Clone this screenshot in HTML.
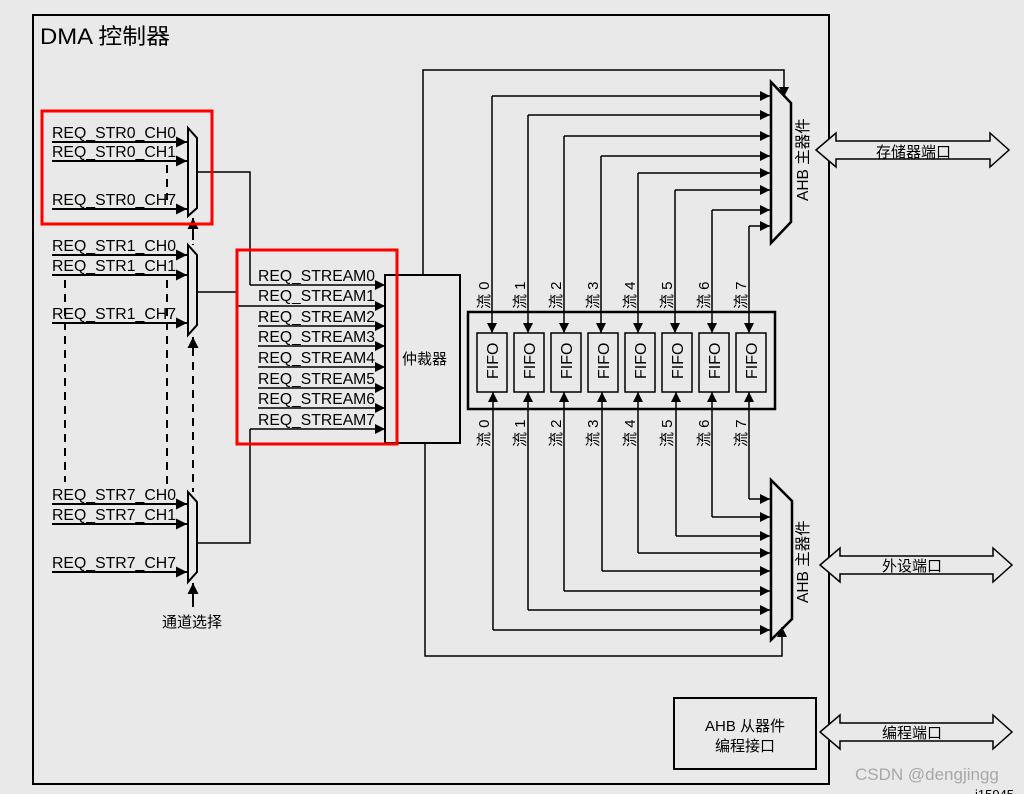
<!DOCTYPE html>
<html><head><meta charset="utf-8"><style>
html,body{margin:0;padding:0;background:#e9e9e9;}
svg{display:block;}
text{font-family:"Liberation Sans","Noto Sans CJK SC",sans-serif;fill:#000;}
</style></head><body>
<svg width="1024" height="794" viewBox="0 0 1024 794" xmlns="http://www.w3.org/2000/svg">
<defs>
<marker id="a" viewBox="0 0 10 10" refX="10" refY="5" markerWidth="10" markerHeight="10" markerUnits="userSpaceOnUse" orient="auto"><path d="M0,0 L10,5 L0,10z" fill="#000"/></marker>
<marker id="b" viewBox="0 0 10 10" refX="10" refY="5" markerWidth="11" markerHeight="13" markerUnits="userSpaceOnUse" orient="auto"><path d="M0,0 L10,5 L0,10z" fill="#000"/></marker>
</defs>
<rect x="0" y="0" width="1024" height="794" fill="#e9e9e9"/>
<rect x="33" y="15" width="796" height="769" fill="none" stroke="#000" stroke-width="2"/>
<text x="40" y="44" font-size="22" textLength="130" lengthAdjust="spacingAndGlyphs">DMA 控制器</text>

<g font-size="15.5">
<text x="52" y="138" textLength="124" lengthAdjust="spacingAndGlyphs">REQ_STR0_CH0</text><text x="52" y="157" textLength="124" lengthAdjust="spacingAndGlyphs">REQ_STR0_CH1</text><text x="52" y="205" textLength="124" lengthAdjust="spacingAndGlyphs">REQ_STR0_CH7</text>
<text x="52" y="251" textLength="124" lengthAdjust="spacingAndGlyphs">REQ_STR1_CH0</text><text x="52" y="271" textLength="124" lengthAdjust="spacingAndGlyphs">REQ_STR1_CH1</text><text x="52" y="319" textLength="124" lengthAdjust="spacingAndGlyphs">REQ_STR1_CH7</text>
<text x="52" y="500" textLength="124" lengthAdjust="spacingAndGlyphs">REQ_STR7_CH0</text><text x="52" y="520" textLength="124" lengthAdjust="spacingAndGlyphs">REQ_STR7_CH1</text><text x="52" y="568" textLength="124" lengthAdjust="spacingAndGlyphs">REQ_STR7_CH7</text>
</g>
<g stroke="#000" stroke-width="2" fill="none">
<line x1="52" y1="142" x2="187" y2="142" marker-end="url(#b)"/>
<line x1="52" y1="161" x2="187" y2="161" marker-end="url(#b)"/>
<line x1="52" y1="209" x2="187" y2="209" marker-end="url(#b)"/>
<line x1="52" y1="255" x2="187" y2="255" marker-end="url(#b)"/>
<line x1="52" y1="275" x2="187" y2="275" marker-end="url(#b)"/>
<line x1="52" y1="323" x2="187" y2="323" marker-end="url(#b)"/>
<line x1="52" y1="504" x2="187" y2="504" marker-end="url(#b)"/>
<line x1="52" y1="524" x2="187" y2="524" marker-end="url(#b)"/>
<line x1="52" y1="572" x2="187" y2="572" marker-end="url(#b)"/>
<path d="M188,128 L197,138 L197,208 L188,216z" fill="#e9e9e9"/>
<path d="M188,245 L197,255 L197,325 L188,335z" fill="#e9e9e9"/>
<path d="M188,492 L197,502 L197,572 L188,582z" fill="#e9e9e9"/>
<g stroke-dasharray="8,6">
<line x1="65" y1="280" x2="65" y2="482"/>
<line x1="167" y1="165" x2="167" y2="200"/>
<line x1="167" y1="280" x2="167" y2="490"/>
<line x1="193" y1="230" x2="193" y2="245"/>
<line x1="193" y1="348" x2="193" y2="492"/>
</g>
<line x1="193" y1="240" x2="193" y2="218" marker-end="url(#b)"/>
<line x1="193" y1="345" x2="193" y2="337" marker-end="url(#b)"/>
<line x1="193" y1="607" x2="193" y2="583" marker-end="url(#b)"/>
</g>
<text x="162" y="627" font-size="15">通道选择</text>

<g stroke="#000" stroke-width="1.5" fill="none">
<polyline points="197,172 250,172 250,285"/>
<line x1="197" y1="292" x2="237" y2="292"/>
<polyline points="197,543 250,543 250,429"/>
</g>

<g font-size="15.5">
<text x="258" y="281" textLength="117" lengthAdjust="spacingAndGlyphs">REQ_STREAM0</text><text x="258" y="301" textLength="117" lengthAdjust="spacingAndGlyphs">REQ_STREAM1</text><text x="258" y="322" textLength="117" lengthAdjust="spacingAndGlyphs">REQ_STREAM2</text><text x="258" y="342" textLength="117" lengthAdjust="spacingAndGlyphs">REQ_STREAM3</text>
<text x="258" y="363" textLength="117" lengthAdjust="spacingAndGlyphs">REQ_STREAM4</text><text x="258" y="384" textLength="117" lengthAdjust="spacingAndGlyphs">REQ_STREAM5</text><text x="258" y="404" textLength="117" lengthAdjust="spacingAndGlyphs">REQ_STREAM6</text><text x="258" y="425" textLength="117" lengthAdjust="spacingAndGlyphs">REQ_STREAM7</text>
</g>
<g stroke="#000" stroke-width="1.5" fill="none">
<line x1="250" y1="285" x2="385" y2="285" marker-end="url(#a)"/>
<line x1="237" y1="306" x2="385" y2="306" marker-end="url(#a)"/>
<line x1="258" y1="326" x2="385" y2="326" marker-end="url(#a)"/>
<line x1="258" y1="346" x2="385" y2="346" marker-end="url(#a)"/>
<line x1="258" y1="367" x2="385" y2="367" marker-end="url(#a)"/>
<line x1="258" y1="388" x2="385" y2="388" marker-end="url(#a)"/>
<line x1="258" y1="408" x2="385" y2="408" marker-end="url(#a)"/>
<line x1="250" y1="429" x2="385" y2="429" marker-end="url(#a)"/>
</g>
<rect x="385" y="275" width="75" height="168" fill="none" stroke="#000" stroke-width="2"/>
<text x="402" y="364" font-size="15">仲裁器</text>

<rect x="42" y="111" width="170" height="113" fill="none" stroke="#f00" stroke-width="3"/>
<rect x="237" y="250" width="160" height="194" fill="none" stroke="#f00" stroke-width="3"/>

<g stroke="#000" stroke-width="1.5" fill="none">
<polyline points="423,275 423,70 784,70 784,97" marker-end="url(#a)"/>
<polyline points="425,443 425,656 782,656 782,627" marker-end="url(#a)"/>
</g>

<rect x="468" y="312" width="307" height="97" fill="none" stroke="#000" stroke-width="2.5"/>
<g stroke="#000" stroke-width="1.5" fill="none">
<rect x="477" y="333" width="30" height="59"/><rect x="514" y="333" width="30" height="59"/>
<rect x="551" y="333" width="30" height="59"/><rect x="588" y="333" width="30" height="59"/>
<rect x="625" y="333" width="30" height="59"/><rect x="662" y="333" width="30" height="59"/>
<rect x="699" y="333" width="30" height="59"/><rect x="736" y="333" width="30" height="59"/>
<polyline points="492,96 492,333" marker-end="url(#a)"/><line x1="492" y1="96" x2="770" y2="96" marker-end="url(#a)"/>
<polyline points="528,115 528,333" marker-end="url(#a)"/><line x1="528" y1="115" x2="770" y2="115" marker-end="url(#a)"/>
<polyline points="564,136 564,333" marker-end="url(#a)"/><line x1="564" y1="136" x2="770" y2="136" marker-end="url(#a)"/>
<polyline points="601,156 601,333" marker-end="url(#a)"/><line x1="601" y1="156" x2="770" y2="156" marker-end="url(#a)"/>
<polyline points="638,173 638,333" marker-end="url(#a)"/><line x1="638" y1="173" x2="770" y2="173" marker-end="url(#a)"/>
<polyline points="675,190 675,333" marker-end="url(#a)"/><line x1="675" y1="190" x2="770" y2="190" marker-end="url(#a)"/>
<polyline points="712,210 712,333" marker-end="url(#a)"/><line x1="712" y1="210" x2="770" y2="210" marker-end="url(#a)"/>
<polyline points="749,226 749,333" marker-end="url(#a)"/><line x1="749" y1="226" x2="770" y2="226" marker-end="url(#a)"/>
<line x1="493" y1="630" x2="493" y2="392" marker-end="url(#a)"/><line x1="493" y1="630" x2="770" y2="630" marker-end="url(#a)"/>
<line x1="528" y1="610" x2="528" y2="392" marker-end="url(#a)"/><polyline points="528,610 770,610" marker-end="url(#a)"/>
<line x1="564" y1="591" x2="564" y2="392" marker-end="url(#a)"/><polyline points="564,591 770,591" marker-end="url(#a)"/>
<line x1="602" y1="571" x2="602" y2="392" marker-end="url(#a)"/><polyline points="602,571 770,571" marker-end="url(#a)"/>
<line x1="638" y1="553" x2="638" y2="392" marker-end="url(#a)"/><polyline points="638,553 770,553" marker-end="url(#a)"/>
<line x1="676" y1="536" x2="676" y2="392" marker-end="url(#a)"/><polyline points="676,536 770,536" marker-end="url(#a)"/>
<line x1="712" y1="517" x2="712" y2="392" marker-end="url(#a)"/><polyline points="712,517 770,517" marker-end="url(#a)"/>
<line x1="749" y1="499" x2="749" y2="392" marker-end="url(#a)"/><polyline points="749,499 770,499" marker-end="url(#a)"/>
</g>
<g font-size="16">
<text transform="translate(498,379) rotate(-90)">FIFO</text><text transform="translate(535,379) rotate(-90)">FIFO</text>
<text transform="translate(572,379) rotate(-90)">FIFO</text><text transform="translate(609,379) rotate(-90)">FIFO</text>
<text transform="translate(646,379) rotate(-90)">FIFO</text><text transform="translate(683,379) rotate(-90)">FIFO</text>
<text transform="translate(720,379) rotate(-90)">FIFO</text><text transform="translate(757,379) rotate(-90)">FIFO</text>
</g>
<g font-size="15" fill="#222">
<text transform="translate(489,309) rotate(-90)">流 0</text><text transform="translate(525,309) rotate(-90)">流 1</text>
<text transform="translate(561,309) rotate(-90)">流 2</text><text transform="translate(598,309) rotate(-90)">流 3</text>
<text transform="translate(635,309) rotate(-90)">流 4</text><text transform="translate(672,309) rotate(-90)">流 5</text>
<text transform="translate(709,309) rotate(-90)">流 6</text><text transform="translate(746,309) rotate(-90)">流 7</text>
<text transform="translate(489,447) rotate(-90)">流 0</text><text transform="translate(525,447) rotate(-90)">流 1</text>
<text transform="translate(561,447) rotate(-90)">流 2</text><text transform="translate(598,447) rotate(-90)">流 3</text>
<text transform="translate(635,447) rotate(-90)">流 4</text><text transform="translate(672,447) rotate(-90)">流 5</text>
<text transform="translate(709,447) rotate(-90)">流 6</text><text transform="translate(746,447) rotate(-90)">流 7</text>
</g>

<g stroke="#000" stroke-width="2.5" fill="none">
<path d="M771,82 L791,103 L791,222 L771,243z"/>
<path d="M771,480 L792,501 L792,619 L771,640z"/>
</g>
<g font-size="15.5">
<text transform="translate(808,201) rotate(-90)">AHB 主器件</text>
<text transform="translate(808,603) rotate(-90)">AHB 主器件</text>
</g>

<g stroke="#000" stroke-width="1.5" fill="#e9e9e9">
<path d="M816,150 L836,133 L836,141 L990,141 L990,133 L1009,150 L990,167 L990,159 L836,159 L836,167z"/>
<path d="M820,565 L840,548 L840,556 L993,556 L993,548 L1012,565 L993,582 L993,574 L840,574 L840,582z"/>
<path d="M820,732 L840,715 L840,723 L993,723 L993,715 L1012,732 L993,749 L993,741 L840,741 L840,749z"/>
</g>
<g font-size="15">
<text x="876" y="157">存储器端口</text>
<text x="882" y="571">外设端口</text>
<text x="882" y="738">编程端口</text>
</g>

<rect x="674" y="698" width="142" height="71" fill="none" stroke="#000" stroke-width="2"/>
<text x="745" y="731" font-size="15" text-anchor="middle">AHB 从器件</text>
<text x="745" y="751" font-size="15" text-anchor="middle">编程接口</text>

<text x="855" y="780" font-size="17" style="fill:#a8a8a8">CSDN @dengjingg</text>
<text x="975" y="799" font-size="13">i15945</text>
</svg>
</body></html>
